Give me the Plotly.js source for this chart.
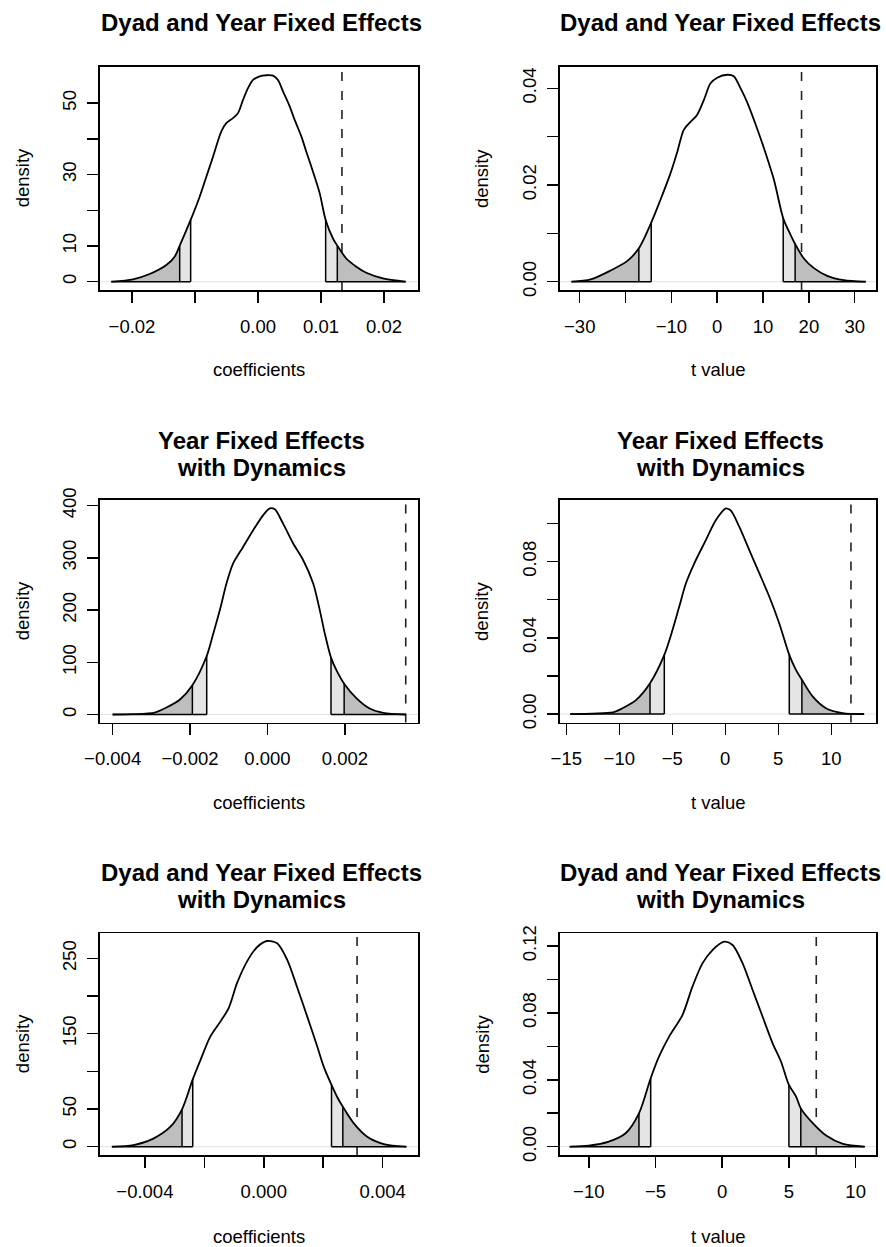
<!DOCTYPE html>
<html>
<head>
<meta charset="utf-8">
<script src="https://cdn.plot.ly/plotly-3.0.1.min.js"></script>
<style>html,body{margin:0;padding:0;background:#fff}#chart{width:886px;height:1247px}</style>
</head>
<body>
<div id="chart"></div>
<script>
// ---------- DATA ----------
// Panel 1: Dyad and Year FE, coefficients
const p1_x = [-0.02328,-0.01984,-0.01720,-0.01455,-0.01323,-0.01243,-0.01069,-0.00926,-0.00820,-0.00714,-0.00582,-0.00503,-0.00397,-0.00317,-0.00238,-0.00159,-0.00079,0.00026,0.00132,0.00238,0.00317,0.00397,0.00503,0.00582,0.00688,0.00767,0.00873,0.00979,0.01074,0.01190,0.01259,0.01402,0.01561,0.01720,0.01984,0.02344];
const p1_y = [0,0.65,2.15,4.67,7.0,10.1,17.3,23.8,29.4,35.0,42.1,44.4,45.8,47.2,50.9,54.2,56.5,57.5,57.8,57.7,56.5,53.3,49.1,45.3,40.7,36.4,30.8,24.8,17.3,12.1,10.1,6.5,4.2,2.5,0.93,0];
const p1_bounds = [-0.01243,-0.01069,0.01074,0.01259]; // outer-low, inner-low, inner-high, outer-high
const p1_obs = 0.01333;

// Panel 2: Dyad and Year FE, t value
const p2_x = [-31.8,-27.6,-23.3,-19.6,-17.1,-14.4,-12.4,-10.2,-8.7,-7.3,-5.8,-4.4,-2.9,-1.5,0,2.2,3.6,5.1,6.5,8.7,10.2,12.4,14.4,16.0,17.0,18.9,21.1,24.0,27.6,32.4];
const p2_y = [0,0.00048,0.0023,0.0043,0.0069,0.0122,0.0169,0.0224,0.0269,0.0314,0.0331,0.0345,0.0376,0.0410,0.0422,0.0428,0.0425,0.0400,0.0372,0.0317,0.0276,0.0210,0.0131,0.0097,0.0078,0.0048,0.0028,0.0012,0.0003,0];
const p2_bounds = [-17.1,-14.4,14.4,17.0];
const p2_obs = 18.4;

// Panel 3: Year FE with Dynamics, coefficients
const p3_x = [-0.00400,-0.00347,-0.00291,-0.00261,-0.00226,-0.00194,-0.00157,-0.00140,-0.00123,-0.00106,-0.00089,-0.00063,-0.00037,-0.00011,0.00006,0.00019,0.00040,0.00066,0.00092,0.00118,0.00135,0.00148,0.00164,0.00178,0.00198,0.00230,0.00264,0.00299,0.00357];
const p3_y = [0,0.6,3.8,13.4,28.8,56,112,155,200,251,289,321,353,382,395,393,366,328,296,251,200,155,109,85,59,31,11.5,3.2,0];
const p3_bounds = [-0.00194,-0.00157,0.00164,0.00198];
const p3_obs = 0.00357;

// Panel 4: Year FE with Dynamics, t value
const p4_x = [-14.62,-12.5,-10.6,-9.7,-8.4,-7.1,-5.75,-4.97,-4.34,-3.71,-2.92,-1.82,-0.88,0.06,0.53,1.32,2.26,3.21,4.15,5.09,6.04,6.67,7.23,8.24,9.50,11.07,13.1];
const p4_y = [0,0.0003,0.0009,0.0031,0.0075,0.0162,0.0311,0.0442,0.0564,0.0686,0.0791,0.0914,0.1018,0.1079,0.1067,0.0983,0.0861,0.0739,0.0617,0.0477,0.0311,0.0232,0.0180,0.0093,0.0031,0.0005,0];
const p4_bounds = [-7.1,-5.75,6.04,7.23];
const p4_obs = 11.86;

// Panel 5: Dyad and Year FE with Dynamics, coefficients
const p5_x = [-0.00511,-0.00438,-0.00370,-0.00314,-0.00275,-0.00239,-0.00213,-0.00180,-0.00146,-0.00118,-0.00090,-0.00056,-0.00022,0.00011,0.00045,0.00079,0.00112,0.00146,0.00180,0.00202,0.00228,0.00247,0.00266,0.00303,0.00348,0.00404,0.00480];
const p5_y = [0,2.2,11.1,26.5,49.6,89.4,115,146,166,184,217,246,265,273,270,248,212,173,133,106,82,66,53,31,13.3,3.5,0];
const p5_bounds = [-0.00275,-0.00239,0.00228,0.00266];
const p5_obs = 0.00314;

// Panel 6: Dyad and Year FE with Dynamics, t value
const p6_x = [-11.43,-10.0,-8.5,-7.24,-6.24,-5.36,-4.74,-3.98,-2.98,-2.23,-1.48,-0.73,0.15,0.78,1.53,2.28,3.03,3.78,4.41,5.0,5.54,5.89,6.79,7.79,9.05,10.68];
const p6_y = [0,0.0006,0.0030,0.0080,0.0199,0.0409,0.0538,0.0658,0.0787,0.0957,0.1096,0.1176,0.1226,0.1206,0.1096,0.0937,0.0777,0.0618,0.0508,0.0369,0.0299,0.0229,0.0140,0.0066,0.0016,0];
const p6_bounds = [-6.24,-5.36,5.0,5.89];
const p6_obs = 7.05;

// Titles and tick labels
const titles = [
  ["Dyad and Year Fixed Effects"],
  ["Dyad and Year Fixed Effects"],
  ["Year Fixed Effects","with Dynamics"],
  ["Year Fixed Effects","with Dynamics"],
  ["Dyad and Year Fixed Effects","with Dynamics"],
  ["Dyad and Year Fixed Effects","with Dynamics"]
];
const xlabels = ["coefficients","t value","coefficients","t value","coefficients","t value"];
const ylabel = "density";

const p1_xticks = [-0.02,-0.01,0,0.01,0.02];         const p1_xtext = ["\u22120.02","","0.00","0.01","0.02"];
const p1_yticks = [0,10,20,30,40,50];                const p1_ytext = ["0","10","","30","","50"];
const p2_xticks = [-30,-20,-10,0,10,20,30];          const p2_xtext = ["\u221230","","\u221210","0","10","20","30"];
const p2_yticks = [0,0.01,0.02,0.03,0.04];           const p2_ytext = ["0.00","","0.02","","0.04"];
const p3_xticks = [-0.004,-0.002,0,0.002];           const p3_xtext = ["\u22120.004","\u22120.002","0.000","0.002"];
const p3_yticks = [0,100,200,300,400];               const p3_ytext = ["0","100","200","300","400"];
const p4_xticks = [-15,-10,-5,0,5,10];               const p4_xtext = ["\u221215","\u221210","\u22125","0","5","10"];
const p4_yticks = [0,0.02,0.04,0.06,0.08,0.10];      const p4_ytext = ["0.00","","0.04","","0.08",""];
const p5_xticks = [-0.004,-0.002,0,0.002,0.004];     const p5_xtext = ["\u22120.004","","0.000","","0.004"];
const p5_yticks = [0,50,100,150,200,250];            const p5_ytext = ["0","50","","150","","250"];
const p6_xticks = [-10,-5,0,5,10];                   const p6_xtext = ["\u221210","\u22125","0","5","10"];
const p6_yticks = [0,0.02,0.04,0.06,0.08,0.10,0.12]; const p6_ytext = ["0.00","","0.04","","0.08","","0.12"];

// ---------- LAYOUT GEOMETRY ----------
const W = 886, H = 1247;
const FONT = "Liberation Sans, Arial, Helvetica, sans-serif";
const px = v => v / W, py = v => 1 - v / H;
const cols = [[100, 418], [559.7, 876.3]];
const rows = [[66.7, 290], [500, 722.5], [933.3, 1155]];
const ranges = [
  {x:[-0.02508,0.0254], y:[-2.32,60.2]},
  {x:[-34.37,34.71],    y:[-0.00172,0.04447]},
  {x:[-0.004326,0.003887], y:[-15.3,410.9]},
  {x:[-15.62,14.25],    y:[-0.0044,0.1123]},
  {x:[-0.00551,0.00519], y:[-11.0,283.2]},
  {x:[-12.18,11.55],    y:[-0.0050,0.1276]}
];
const titleY = [[22.5],[22.5],[440.7,467.3],[440.7,467.3],[872.5,899.2],[872.5,899.2]];
const xlabY = [370, 370, 803, 803, 1236.7, 1236.7];

const panels = [
  {x:p1_x,y:p1_y,b:p1_bounds,obs:p1_obs,xt:p1_xticks,xtt:p1_xtext,yt:p1_yticks,ytt:p1_ytext},
  {x:p2_x,y:p2_y,b:p2_bounds,obs:p2_obs,xt:p2_xticks,xtt:p2_xtext,yt:p2_yticks,ytt:p2_ytext},
  {x:p3_x,y:p3_y,b:p3_bounds,obs:p3_obs,xt:p3_xticks,xtt:p3_xtext,yt:p3_yticks,ytt:p3_ytext},
  {x:p4_x,y:p4_y,b:p4_bounds,obs:p4_obs,xt:p4_xticks,xtt:p4_xtext,yt:p4_yticks,ytt:p4_ytext},
  {x:p5_x,y:p5_y,b:p5_bounds,obs:p5_obs,xt:p5_xticks,xtt:p5_xtext,yt:p5_yticks,ytt:p5_ytext},
  {x:p6_x,y:p6_y,b:p6_bounds,obs:p6_obs,xt:p6_xticks,xtt:p6_xtext,yt:p6_yticks,ytt:p6_ytext}
];

const DARK = "#bebebe", LIGHT = "#e5e5e5";
const traces = [], shapes = [], annotations = [];
const layout = {
  width: W, height: H, margin: {l:0, r:0, t:0, b:0},
  paper_bgcolor: "#fff", plot_bgcolor: "#fff", showlegend: false,
  font: {family: FONT, color: "#000"}
};

function slice(p, lo, hi) {
  const xs = [], ys = [];
  for (let i = 0; i < p.x.length; i++) {
    if (p.x[i] >= lo - 1e-12 && p.x[i] <= hi + 1e-12) { xs.push(p.x[i]); ys.push(p.y[i]); }
  }
  return {xs, ys};
}
function yAt(p, xv) {
  const i = p.x.findIndex(v => Math.abs(v - xv) < 1e-12);
  return p.y[i];
}

panels.forEach((p, k) => {
  const n = k + 1;
  const xa = n === 1 ? "x" : "x" + n, ya = n === 1 ? "y" : "y" + n;
  const c = cols[k % 2], r = rows[Math.floor(k / 2)];
  const xmin = p.x[0], xmax = p.x[p.x.length - 1];
  const [bo1, bi1, bi2, bo2] = p.b;

  const fill = (s, col) => traces.push({
    x: s.xs, y: s.ys, xaxis: xa, yaxis: ya, type: "scatter", mode: "lines",
    fill: "tozeroy", fillcolor: col, line: {width: 0, shape: "spline", smoothing: 0.8},
    hoverinfo: "skip"
  });
  fill(slice(p, xmin, bo1), DARK);
  fill(slice(p, bo2, xmax), DARK);
  fill(slice(p, bo1, bi1), LIGHT);
  fill(slice(p, bi2, bo2), LIGHT);

  // polygon borders: verticals and baselines under the tails
  const ex = [], ey = [];
  [bo1, bi1, bi2, bo2].forEach(b => { ex.push(b, b, null); ey.push(0, yAt(p, b), null); });
  ex.push(xmin, bi1, null, bi2, xmax); ey.push(0, 0, null, 0, 0);
  traces.push({x: ex, y: ey, xaxis: xa, yaxis: ya, type: "scatter", mode: "lines",
    line: {color: "#000", width: 1.5}, hoverinfo: "skip"});

  // density curve
  traces.push({x: p.x, y: p.y, xaxis: xa, yaxis: ya, type: "scatter", mode: "lines",
    line: {color: "#000", width: 1.8, shape: "spline", smoothing: 0.8}, hoverinfo: "skip"});

  // faint zero line and dashed observed line (below the fills)
  shapes.push({type: "line", layer: "below", xref: xa + " domain", yref: ya,
    x0: 0, x1: 1, y0: 0, y1: 0, line: {color: "#e3e3e3", width: 1}});
  shapes.push({type: "line", layer: "below", xref: xa, yref: ya + " domain",
    x0: p.obs, x1: p.obs, y0: 0, y1: 1, line: {color: "#222", width: 1.6, dash: "9px,10px"}});

  const axBase = {
    showline: true, linecolor: "#000", linewidth: 1.6, mirror: true,
    showgrid: false, zeroline: false, ticks: "outside", ticklen: 11, tickwidth: 1.5,
    tickcolor: "#000", tickmode: "array", tickfont: {family: FONT, size: 18.5, color: "#000"},
    fixedrange: true
  };
  layout["xaxis" + (n === 1 ? "" : n)] = Object.assign({}, axBase, {
    domain: [px(c[0]), px(c[1])], range: ranges[k].x, anchor: ya,
    tickvals: p.xt, ticktext: p.xtt, ticklabelstandoff: 8
  });
  layout["yaxis" + (n === 1 ? "" : n)] = Object.assign({}, axBase, {
    domain: [py(r[1]), py(r[0])], range: ranges[k].y, anchor: xa,
    tickvals: p.yt, ticktext: p.ytt, tickangle: -90, ticklabelstandoff: 4
  });

  const cx = (c[0] + c[1]) / 2;
  titles[k].forEach((t, j) => annotations.push({
    text: t, xref: "paper", yref: "paper", x: px(cx + 2), y: py(titleY[k][j]),
    xanchor: "center", yanchor: "middle", showarrow: false,
    font: {family: FONT, size: 24, weight: "bold", color: "#000"}
  }));
  annotations.push({
    text: xlabels[k], xref: "paper", yref: "paper", x: px(cx), y: py(xlabY[k]),
    xanchor: "center", yanchor: "middle", showarrow: false,
    font: {family: FONT, size: 18.5, color: "#000"}
  });
  annotations.push({
    text: ylabel, xref: "paper", yref: "paper", x: px(c[0] - 78), y: py((r[0] + r[1]) / 2),
    xanchor: "center", yanchor: "middle", showarrow: false, textangle: -90,
    font: {family: FONT, size: 18.5, color: "#000"}
  });
});

layout.shapes = shapes;
layout.annotations = annotations;
Plotly.newPlot("chart", traces, layout, {staticPlot: true, displayModeBar: false});
</script>
</body>
</html>
